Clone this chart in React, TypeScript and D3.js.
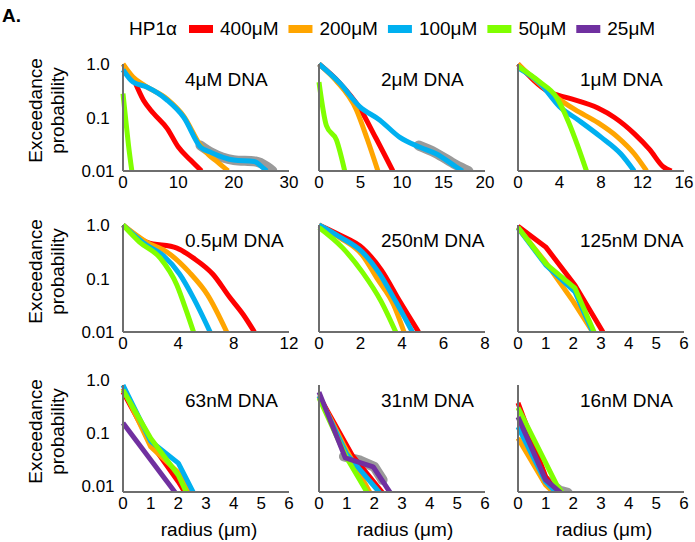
import React from 'react';
import * as d3 from 'd3';

type Pt = [number, number];

// ---------- legend / labels ----------
const legendTitle = 'HP1α';
const hp1Labels = ['400μM', '200μM', '100μM', '50μM', '25μM'];
const seriesColors = ['#ff0000', '#ffa500', '#00b0f0', '#80ff00', '#7030a0'];
const panelTitles = ['4μM DNA', '2μM DNA', '1μM DNA', '0.5μM DNA', '250nM DNA', '125nM DNA', '63nM DNA', '31nM DNA', '16nM DNA'];
const xMaxValues = [30, 20, 16, 12, 8, 6, 6, 6, 6];
const xTickValues = [
  [0, 10, 20, 30], [0, 5, 10, 15, 20], [0, 4, 8, 12, 16],
  [0, 4, 8, 12], [0, 2, 4, 6, 8], [0, 1, 2, 3, 4, 5, 6],
  [0, 1, 2, 3, 4, 5, 6], [0, 1, 2, 3, 4, 5, 6], [0, 1, 2, 3, 4, 5, 6],
];
const yTickValues = [1, 0.1, 0.01];
const yTickLabels = ['1.0', '0.1', '0.01'];
const yAxisLabel = ['Exceedance', 'probability'];
const xAxisLabel = 'radius (μm)';

// ---------- data: [radius, exceedance probability] ----------
// 4μM DNA
const p1Red: Pt[] = [[2.0, 0.5], [3.7, 0.21], [5.5, 0.12], [8, 0.062], [10, 0.028], [12.2, 0.016], [14.2, 0.01]];
const p1Orange: Pt[] = [[0, 1.0], [1.8, 0.57], [4, 0.39], [8, 0.22], [11, 0.105], [14, 0.03], [15.5, 0.02], [17, 0.015], [19, 0.01]];
const p1Blue: Pt[] = [[0, 0.78], [1.8, 0.46], [4.3, 0.37], [8, 0.21], [11, 0.1], [14, 0.028], [16, 0.022], [20, 0.016], [23.7, 0.015], [25.5, 0.011], [26, 0.01]];
const p1Green: Pt[] = [[0, 0.28], [0.5, 0.09], [1.0, 0.03], [1.6, 0.01]];
const p1Band: Pt[] = [[14, 0.03], [16, 0.022], [20, 0.016], [24, 0.015], [26, 0.012], [27, 0.01]];
// 2μM DNA
const p2Red: Pt[] = [[0, 1.0], [2.5, 0.44], [4.9, 0.15], [6.9, 0.04], [8.9, 0.01]];
const p2Orange: Pt[] = [[0, 1.0], [2, 0.5], [4.5, 0.14], [5.8, 0.04], [7.1, 0.01]];
const p2Blue: Pt[] = [[0, 1.0], [2.5, 0.44], [4.9, 0.16], [7.3, 0.09], [9.7, 0.043], [12.1, 0.028], [14.1, 0.021], [16.5, 0.012], [17.3, 0.01]];
const p2Green: Pt[] = [[0, 0.46], [0.9, 0.07], [2.1, 0.038], [3.1, 0.01]];
const p2Band: Pt[] = [[12, 0.03], [14, 0.022], [16.5, 0.013], [18, 0.01]];
// 1μM DNA
const p3Red: Pt[] = [[0, 1.0], [3, 0.3], [4.9, 0.23], [7.7, 0.15], [9.3, 0.1], [11.2, 0.05], [12.7, 0.025], [14, 0.012], [14.8, 0.01]];
const p3Orange: Pt[] = [[0, 1.0], [3, 0.3], [5.5, 0.14], [7.7, 0.08], [9.6, 0.043], [11.2, 0.021], [12.4, 0.01]];
const p3Blue: Pt[] = [[0, 0.85], [2.1, 0.44], [4, 0.16], [5.8, 0.09], [8, 0.043], [9.9, 0.021], [11.2, 0.01]];
const p3Green: Pt[] = [[0, 0.9], [2.1, 0.46], [3.7, 0.24], [4.9, 0.08], [5.8, 0.028], [6.6, 0.01]];
// 0.5μM DNA
const p4Red: Pt[] = [[0, 1.0], [1.7, 0.48], [3.9, 0.37], [5.1, 0.24], [6.5, 0.12], [7.7, 0.045], [8.7, 0.021], [9.5, 0.01]];
const p4Orange: Pt[] = [[0, 1.0], [1.7, 0.48], [3.2, 0.31], [4.8, 0.13], [6.1, 0.05], [7.5, 0.01]];
const p4Blue: Pt[] = [[0, 1.0], [1.7, 0.42], [2.9, 0.27], [4.1, 0.12], [5.1, 0.043], [6.3, 0.01]];
const p4Green: Pt[] = [[0, 1.0], [1.2, 0.48], [2.7, 0.24], [3.9, 0.075], [4.6, 0.024], [5.1, 0.01]];
// 250nM DNA
const p5Red: Pt[] = [[0, 1.0], [1, 0.65], [2.1, 0.37], [3, 0.145], [3.9, 0.037], [4.8, 0.01]];
const p5Orange: Pt[] = [[0, 1.0], [1, 0.58], [2.1, 0.27], [2.8, 0.1], [3.6, 0.032], [4.1, 0.01]];
const p5Blue: Pt[] = [[0, 1.0], [1, 0.6], [2.1, 0.31], [2.9, 0.126], [3.7, 0.037], [4.5, 0.01]];
const p5Green: Pt[] = [[0, 0.9], [1.15, 0.37], [2.1, 0.13], [3, 0.037], [3.7, 0.01]];
// 125nM DNA
const p6Red: Pt[] = [[0, 0.95], [1, 0.39], [2.06, 0.075], [3.07, 0.01]];
const p6Orange: Pt[] = [[0, 0.9], [1, 0.2], [2, 0.037], [2.7, 0.01]];
const p6Blue: Pt[] = [[0, 0.88], [1, 0.18], [2.06, 0.056], [2.7, 0.01]];
const p6Green: Pt[] = [[0, 0.9], [1, 0.19], [2.06, 0.066], [2.75, 0.01]];
// 63nM DNA
const p7Red: Pt[] = [[0, 0.6], [1, 0.065], [2, 0.012], [2.25, 0.0074]];
const p7Orange: Pt[] = [[0, 0.7], [1, 0.055], [2, 0.018], [2.45, 0.0074]];
const p7Blue: Pt[] = [[0, 0.8], [1, 0.07], [2, 0.027], [2.55, 0.0074]];
const p7Green: Pt[] = [[0, 0.65], [1, 0.08], [2, 0.016], [2.3, 0.0074]];
const p7Purple: Pt[] = [[0, 0.155], [1.9, 0.0074]];
// 31nM DNA
const p8Red: Pt[] = [[0, 0.5], [1.2, 0.038], [2.3, 0.0074]];
const p8Orange: Pt[] = [[0, 0.5], [0.95, 0.052], [1.85, 0.0074]];
const p8Blue: Pt[] = [[0, 0.5], [1, 0.04], [2.2, 0.0074]];
const p8Green: Pt[] = [[0, 0.46], [1, 0.034], [1.75, 0.0074]];
const p8Purple: Pt[] = [[0, 0.59], [0.95, 0.034], [1.96, 0.023], [2.58, 0.0074]];
const p8Band: Pt[] = [[0.9, 0.036], [1.5, 0.03], [2, 0.023], [2.3, 0.013]];
// 16nM DNA
const p9Red: Pt[] = [[0, 0.37], [1, 0.015], [1.4, 0.0074]];
const p9Orange: Pt[] = [[0, 0.08], [1, 0.0105], [1.3, 0.0074]];
const p9Blue: Pt[] = [[0, 0.13], [1, 0.012], [1.4, 0.0074]];
const p9Green: Pt[] = [[0, 0.3], [1.4, 0.0105], [1.6, 0.0074]];
const p9Purple: Pt[] = [[0, 0.2], [1, 0.013], [1.55, 0.0074]];
const p9Band: Pt[] = [[1, 0.013], [1.5, 0.0082], [1.8, 0.0074]];

const panelSeries: (Pt[] | null)[][] = [
  [p1Red, p1Orange, p1Blue, p1Green, null],
  [p2Red, p2Orange, p2Blue, p2Green, null],
  [p3Red, p3Orange, p3Blue, p3Green, null],
  [p4Red, p4Orange, p4Blue, p4Green, null],
  [p5Red, p5Orange, p5Blue, p5Green, null],
  [p6Red, p6Orange, p6Blue, p6Green, null],
  [p7Red, p7Orange, p7Blue, p7Green, p7Purple],
  [p8Red, p8Orange, p8Blue, p8Green, p8Purple],
  [p9Red, p9Orange, p9Blue, p9Green, p9Purple],
];
const panelBands: (Pt[] | null)[] = [p1Band, p2Band, null, null, null, null, null, p8Band, p9Band];

// ---------- layout ----------
const FONT = "'Liberation Sans', Arial, Helvetica, sans-serif";
const colX = [123, 319, 518];
const panelW = 166;
// pixel of p=1 and p=0.01, and axis extents, per row
const rowY1 = [64, 225, 380];
const rowY001 = [171, 332, 486];
const rowAxisTop = [64, 225, 385];
const rowAxisBottom = [171, 332, 492];

function approxTextWidth(s: string, size: number) {
  let w = 0;
  for (const ch of s) {
    if (/[0-9]/.test(ch)) w += 0.556;
    else if (ch === 'μ') w += 0.576;
    else if (ch === 'M') w += 0.833;
    else w += 0.6;
  }
  return w * size;
}

export default function App() {
  const legendFont = 19;
  const swatchW = 24;
  let lx = 189;
  const legendItems = hp1Labels.map((lab, i) => {
    const sx = lx;
    const tx = sx + swatchW + 7;
    lx = tx + approxTextWidth(lab, legendFont) + 10;
    return { lab, sx, tx, color: seriesColors[i] };
  });

  const panels = panelTitles.map((title, idx) => {
    const row = Math.floor(idx / 3);
    const col = idx % 3;
    const x0 = colX[col];
    const xs = d3.scaleLinear().domain([0, xMaxValues[idx]]).range([x0, x0 + panelW]);
    const ys = d3.scaleLog().domain([0.01, 1]).range([rowY001[row], rowY1[row]]);
    const curve = row === 2 || idx === 5 ? d3.curveLinear : d3.curveMonotoneX;
    const line = d3.line<Pt>().x((d) => xs(d[0])).y((d) => ys(d[1])).curve(curve);
    return { title, idx, row, col, x0, xs, ys, line };
  });

  return (
    <svg width={695} height={542} style={{ position: 'absolute', left: 0, top: 0, background: '#fff' }} fontFamily={FONT}>
      <defs>
        {panels.map((p) => (
          <clipPath id={`clip${p.idx}`} key={p.idx}>
            <rect x={p.x0 - 3} y={rowAxisTop[p.row] - 6} width={panelW + 10} height={rowAxisBottom[p.row] - rowAxisTop[p.row] + 6} />
          </clipPath>
        ))}
      </defs>
      <text x={2} y={22} fontSize={19} fontWeight="bold">A.</text>
      <text x={129} y={35} fontSize={legendFont}>{legendTitle}</text>
      {legendItems.map((it) => (
        <g key={it.lab}>
          <rect x={it.sx} y={25} width={swatchW} height={8} fill={it.color} />
          <text x={it.tx} y={35} fontSize={legendFont}>{it.lab}</text>
        </g>
      ))}

      {panels.map((p) => {
        const axisTop = rowAxisTop[p.row];
        const axisBottom = rowAxisBottom[p.row];
        const band = panelBands[p.idx];
        return (
          <g key={p.idx}>
            <g clipPath={`url(#clip${p.idx})`}>
              {band && (
                <path d={p.line(band) || ''} fill="none" stroke="#9a9a9a" strokeWidth={10} strokeLinejoin="round" strokeLinecap="round" />
              )}
              {panelSeries[p.idx].map((s, si) =>
                s ? (
                  <path key={si} d={p.line(s) || ''} fill="none" stroke={seriesColors[si]} strokeWidth={5} strokeLinejoin="round" />
                ) : null
              )}
            </g>
            <line x1={p.x0} x2={p.x0} y1={axisTop} y2={axisBottom} stroke="#6e6e6e" strokeWidth={2} />
            <line x1={p.x0} x2={p.x0 + panelW} y1={axisBottom} y2={axisBottom} stroke="#6e6e6e" strokeWidth={2} />
            {xTickValues[p.idx].map((t) => (
              <text key={t} x={p.xs(t)} y={axisBottom + 17} fontSize={17} textAnchor="middle">{t}</text>
            ))}
            <text x={p.x0 + 62} y={axisTop + 22} fontSize={19}>{p.title}</text>
            {p.col === 0 &&
              yTickValues.map((v, i) => (
                <text key={v} x={98} y={p.ys(v) + 6} fontSize={17} textAnchor="middle">{yTickLabels[i]}</text>
              ))}
            {p.col === 0 && (
              <text transform={`translate(42,${(axisTop + axisBottom) / 2 - 7}) rotate(-90)`} fontSize={19} textAnchor="middle">
                <tspan x={0} y={0}>{yAxisLabel[0]}</tspan>
                <tspan x={0} y={22}>{yAxisLabel[1]}</tspan>
              </text>
            )}
            {p.row === 2 && (
              <text x={p.x0 + panelW / 2 + 3} y={536} fontSize={19} textAnchor="middle">{xAxisLabel}</text>
            )}
          </g>
        );
      })}
    </svg>
  );
}
